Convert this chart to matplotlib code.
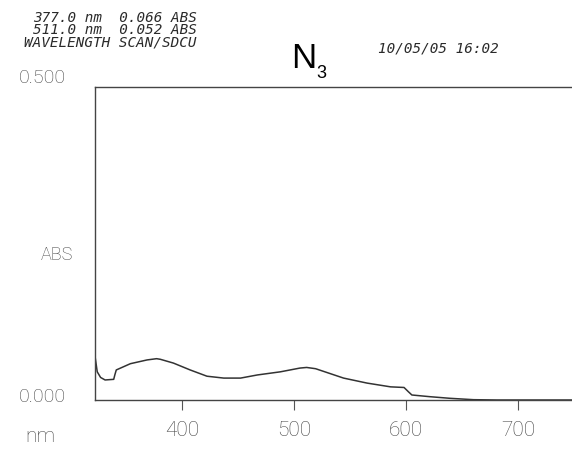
import matplotlib.pyplot as plt

# spectrum
nm = [322, 324, 327, 331, 338.7, 339.7, 341, 353.6, 368.5, 377, 380.4, 392,
      407, 422, 437, 452, 467, 487.5, 505, 511, 519, 529, 544, 565, 586,
      598, 602, 605, 621, 639, 660, 681, 720, 748]
absorb = [0.070, 0.045, 0.036, 0.032, 0.033, 0.040, 0.048, 0.058, 0.064, 0.066,
          0.065, 0.059, 0.048, 0.038, 0.035, 0.035, 0.040, 0.045, 0.051, 0.052,
          0.050, 0.044, 0.035, 0.027, 0.021, 0.020, 0.013, 0.008, 0.0053,
          0.0027, 0.0005, 0.0, 0.0, 0.0]

xticks = [400, 500, 600, 700]
ylims = [0.0, 0.5]
cabecalho = ["377.0 nm  0.066 ABS", "511.0 nm  0.052 ABS", "WAVELENGTH SCAN/SDCU"]
data_hora = "10/05/05 16:02"

fonte_fina = dict(family='Roboto', weight='light')
cinza = '#444444'

W, H = 572, 450
fig = plt.figure(figsize=(W / 100, H / 100), dpi=100)
ax = fig.add_axes([95 / W, 1 - 400 / H, 1 - 95 / W, (400 - 87) / H])

ax.plot(nm, absorb, color='#333333', lw=1.1)
ax.set_xlim(322, 748)
ax.set_ylim(*ylims)

for lado in ['left', 'top', 'bottom']:
    ax.spines[lado].set_color('#444444')
    ax.spines[lado].set_linewidth(1.0)
ax.spines['right'].set_visible(False)

ax.set_xticks(xticks)
ax.set_xticklabels([str(t) for t in xticks], fontsize=15, color=cinza,
                   **fonte_fina)
ax.tick_params(axis='x', direction='out', length=7, width=0.8, color='#555555',
               pad=8)
ax.set_yticks([])


def px(x, y):
    return x / W, 1 - y / H


fig.text(*px(42, 78), "0.500", fontsize=14, color=cinza, ha='center',
         va='center', **fonte_fina)
fig.text(*px(42, 397), "0.000", fontsize=14, color=cinza, ha='center',
         va='center', **fonte_fina)
fig.text(*px(57, 255), "ABS", fontsize=13, color=cinza, ha='center',
         va='center', **fonte_fina)
fig.text(*px(40, 436), "nm", fontsize=15, color=cinza, ha='center',
         va='center', **fonte_fina)

for i, linha in enumerate(cabecalho):
    fig.text(*px(197, 22 + 12.5 * i), linha, family='DejaVu Sans Mono',
             style='italic', fontsize=10.3, color='#2a2a2a', ha='right',
             va='baseline')

fig.text(*px(378, 53), data_hora, family='DejaVu Sans Mono', style='italic',
         fontsize=10.3, color='#2a2a2a', ha='left', va='baseline')

fig.text(*px(291, 68), "N", family='Liberation Sans', fontsize=25,
         color='black', ha='left', va='baseline')
fig.text(*px(316, 78), "3", family='Liberation Sans', fontsize=13,
         color='black', ha='left', va='baseline')

fig.savefig('out.png', dpi=100)
